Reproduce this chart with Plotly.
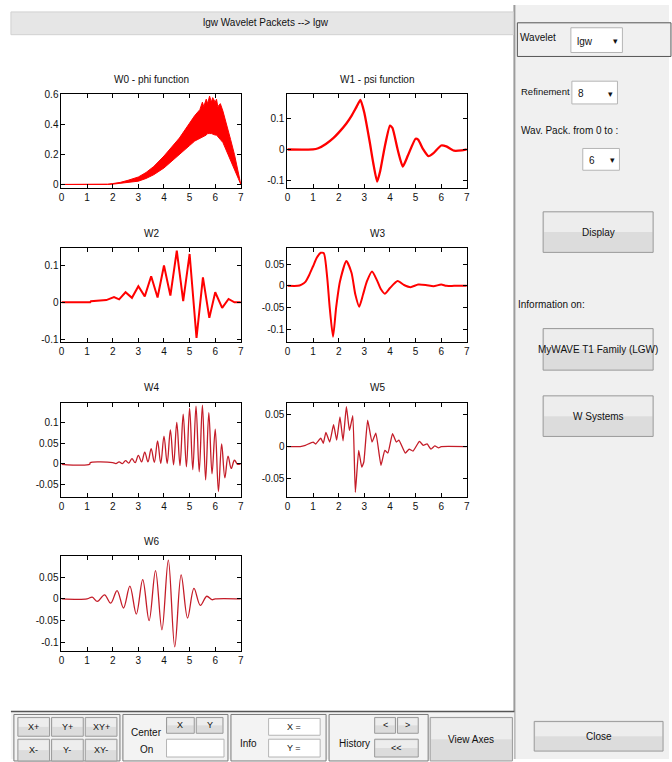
import plotly.graph_objects as go

# ---------------- data ----------------
x_ticks = [0, 1, 2, 3, 4, 5, 6, 7]

w0_x = [0, 1.0, 1.8, 2.0, 2.3, 2.6, 3.0, 3.3, 3.6, 4.0, 4.3, 4.6, 5.0, 5.2, 5.4, 5.5, 5.55, 5.65, 5.7, 5.78, 5.85, 5.9,
        6.0, 6.05, 6.1, 6.2, 6.3, 6.45, 6.6, 6.75, 6.9, 7.0]
w0_upper = [0, 0, 0.002, 0.006, 0.014, 0.028, 0.05, 0.08, 0.12, 0.19, 0.25, 0.31, 0.41, 0.46, 0.50, 0.55, 0.52, 0.57,
            0.54, 0.59, 0.55, 0.58, 0.55, 0.57, 0.52, 0.54, 0.49, 0.40, 0.30, 0.20, 0.08, 0.01]
w0_lower = [0, 0, 0, 0.002, 0.006, 0.012, 0.022, 0.04, 0.065, 0.11, 0.15, 0.20, 0.26, 0.29, 0.31, 0.32, 0.32, 0.33,
            0.34, 0.34, 0.34, 0.34, 0.33, 0.33, 0.32, 0.30, 0.28, 0.22, 0.16, 0.10, 0.04, 0.0]

w1_x = [0, 1.0, 1.2, 1.5, 1.8, 2.0, 2.3, 2.5, 2.7, 2.85, 3.0, 3.2, 3.35, 3.5, 3.62, 3.8, 4.0, 4.1, 4.3, 4.5, 4.7, 5.0, 5.1, 5.3, 5.5, 5.7, 6.0, 6.2, 6.5, 6.8, 7.0]
w1_y = [0, 0, 0.004, 0.018, 0.038, 0.055, 0.085, 0.11, 0.14, 0.162, 0.12, 0.03, -0.045, -0.105, -0.07, 0.01, 0.078, 0.07, 0.0, -0.056, -0.02, 0.035, 0.032, 0.0, -0.022, -0.012, 0.013, 0.01, -0.004, -0.003, 0.0]

w2_x = [0, 1.12, 1.15, 1.5, 1.75, 2.05, 2.25, 2.5, 2.75, 3.0, 3.25, 3.5, 3.75, 4.0, 4.25, 4.5, 4.75, 5.0, 5.27, 5.52, 5.77, 6.0, 6.27, 6.52, 6.75, 7.0]
w2_y = [0, 0, 0.003, 0.004, 0.006, 0.014, 0.008, 0.027, 0.012, 0.043, 0.016, 0.07, 0.013, 0.099, 0.018, 0.139, 0.003, 0.13, -0.096, 0.067, -0.042, 0.027, -0.015, 0.009, 0.0, 0.0]

w3_x = [0, 0.4, 0.55, 0.7, 0.85, 1.0, 1.15, 1.3, 1.42, 1.55, 1.65, 1.78, 1.9, 2.05, 2.3, 2.5, 2.65, 2.8, 2.95, 3.1, 3.3, 3.5, 3.65, 3.8, 4.0, 4.3, 4.55, 4.8, 5.1, 5.4, 5.7, 6.0, 6.2, 6.5, 7.0]
w3_y = [0, 0, 0.003, 0.009, 0.025, 0.045, 0.065, 0.076, 0.075, 0.02, -0.05, -0.117, -0.05, 0.01, 0.057, 0.03, -0.02, -0.048, -0.02, 0.01, 0.033, 0.012, -0.008, -0.018, -0.005, 0.011, 0.002, -0.003, 0.003, 0.002, -0.001, 0.003, 0.0, 0.0, 0.0]

w4_x = [0, 1.1, 1.12, 2.0, 2.125, 2.25, 2.375, 2.5, 2.625, 2.75, 2.875, 3.0, 3.125, 3.25, 3.375, 3.5, 3.625, 3.75,
        3.875, 4.0, 4.125, 4.25, 4.375, 4.5, 4.625, 4.75, 4.875, 5.0, 5.125, 5.25, 5.375, 5.5, 5.625, 5.75,
        5.875, 6.0, 6.125, 6.25, 6.375, 6.5, 6.625, 6.75, 6.875, 7.0]
w4_y = [-0.002, -0.002, 0.002, 0.002, 0.0, 0.004, 0.0, 0.007, 0.001, 0.012, 0.002, 0.02, 0.004, 0.028, 0.004, 0.036, 0.003, 0.055,
        0.0, 0.067, 0.0, 0.082, -0.003, 0.1, -0.005, 0.12, -0.008, 0.135, -0.015, 0.14, -0.02, 0.142, -0.04, 0.124,
        -0.025, 0.084, -0.068, 0.048, -0.035, 0.018, -0.012, 0.008, -0.002, 0.0]

w5_x = [0, 0.5, 0.7, 1.0, 1.1, 1.3, 1.4, 1.5, 1.65, 1.8, 1.92, 2.05, 2.17, 2.3, 2.42, 2.55, 2.65, 2.78, 2.9, 2.98, 3.13, 3.3, 3.45, 3.65, 3.8, 3.92, 4.1, 4.25, 4.35, 4.6, 4.75, 4.9, 5.15, 5.3, 5.45, 5.6, 5.75, 5.9, 6.0, 7.0]
w5_y = [0, 0, 0.002, 0.007, 0.004, 0.013, 0.005, 0.022, 0.007, 0.034, 0.01, 0.046, 0.009, 0.062, 0.025, 0.048, -0.071, -0.006, -0.032, -0.024, 0.041, 0.007, 0.021, -0.029, -0.006, -0.01, 0.02, 0.007, 0.01, -0.01, -0.004, -0.007, 0.008, 0.002, 0.004, -0.004, 0.001, -0.002, 0, 0]

w6_x = [0, 1.0, 1.2, 1.4, 1.68, 1.92, 2.17, 2.42, 2.67, 2.92, 3.17, 3.42, 3.67, 3.92, 4.17, 4.42, 4.67, 4.92, 5.17, 5.42, 5.67, 5.87, 6.0, 7.0]
w6_y = [0, 0, 0.004, -0.006, 0.009, -0.01, 0.019, -0.021, 0.029, -0.035, 0.044, -0.05, 0.065, -0.071, 0.089, -0.11, 0.055, -0.044, 0.024, -0.015, 0.006, -0.002, 0, 0]

titles = ["W0 - phi function", "W1 - psi function", "W2", "W3", "W4", "W5", "W6"]
y_tickvals = [
    [0, 0.2, 0.4, 0.6],
    [-0.1, 0, 0.1],
    [-0.1, 0, 0.1],
    [-0.1, -0.05, 0, 0.05],
    [-0.05, 0, 0.05, 0.1],
    [-0.05, 0, 0.05],
    [-0.1, -0.05, 0, 0.05],
]
y_ticktext = [
    ["0", "0.2", "0.4", "0.6"],
    ["-0.1", "0", "0.1"],
    ["-0.1", "0", "0.1"],
    ["-0.1", "-0.05", "0", "0.05"],
    ["-0.05", "0", "0.05", "0.1"],
    ["-0.05", "0", "0.05"],
    ["-0.1", "-0.05", "0", "0.05"],
]
y_ranges = [[-0.024, 0.604], [-0.126, 0.181], [-0.108, 0.145], [-0.13, 0.086],
            [-0.081, 0.148], [-0.078, 0.068], [-0.12, 0.098]]

# ---------------- layout helpers (pixel -> paper) ----------------
W, H = 672, 762
FONT = "Liberation Sans Narrow, Liberation Sans, Arial, sans-serif"


def px(x):
    return x / W


def py(y):
    return 1 - y / H


shapes = []
annotations = []


def rect(x0, y0, x1, y1, fill, line="rgba(0,0,0,0)", lw=1):
    shapes.append(dict(type="rect", xref="paper", yref="paper",
                       x0=px(x0), x1=px(x1), y0=py(y1), y1=py(y0),
                       fillcolor=fill, line=dict(color=line, width=lw), layer="below"))


def hline(x0, x1, y, color, lw=1):
    shapes.append(dict(type="line", xref="paper", yref="paper",
                       x0=px(x0), x1=px(x1), y0=py(y), y1=py(y),
                       line=dict(color=color, width=lw), layer="below"))


def vline(x, y0, y1, color, lw=1):
    shapes.append(dict(type="line", xref="paper", yref="paper",
                       x0=px(x), x1=px(x), y0=py(y0), y1=py(y1),
                       line=dict(color=color, width=lw), layer="below"))


def text(x, y, s, size=10, anchor="center", color="#111"):
    annotations.append(dict(xref="paper", yref="paper", x=px(x), y=py(y), text=s,
                            showarrow=False, xanchor=anchor, yanchor="middle",
                            font=dict(family=FONT, size=size, color=color)))


def button(x0, y0, x1, y1, label=None, size=10):
    rect(x0, y0, x1, y1, "#dcdcdc", "#9a9a9a", 1)
    rect(x0 + 1, y0 + 1, x1 - 1, (y0 + y1) / 2, "#ededed")
    if label:
        text((x0 + x1) / 2, (y0 + y1) / 2, label, size)


def dropdown(x0, y0, x1, y1, label):
    rect(x0, y0, x1, y1, "#ffffff", "#b5b5b5", 1)
    text(x0 + 4, (y0 + y1) / 2 + 1, label, 10, "left")
    text(x1 - 7, (y0 + y1) / 2 + 1, "▾", 9)


# ---------------- GUI chrome ----------------
rect(0, 0, W, H, "#ffffff")
rect(516, 0, W, H, "#f0f0f0")
vline(516, 0, H, "#9c9c9c", 2)
rect(8, 7, 515, 30, "#e6e6e6", "#d2d2d2", 1)
text(265, 18, "lgw Wavelet Packets --> lgw", 10)

# right panel
rect(519, 18, 674, 52, "#f0f0f0", "#555555", 1)
text(520, 33, "Wavelet", 10, "left")
dropdown(573, 23, 625, 48, "lgw")
text(521, 87, "Refinement", 9.5, "left")
dropdown(574, 77, 620, 100, "8")
text(521, 127, "Wav. Pack. from 0 to :", 10, "left")
dropdown(585, 145, 622, 167, "6")
button(545, 209, 656, 250, "Display")
text(518, 303, "Information on:", 10, "left")
button(545, 327, 656, 369, "MyWAVE T1 Family (LGW)")
button(545, 395, 656, 436, "W Systems")
button(536, 724, 666, 754, "Close")

# bottom toolbar
rect(8, 714, 516, H, "#f3f3f3")
hline(8, 516, 714, "#555555", 1.5)
rect(11, 717, 118, H + 2, "#f3f3f3", "#7a7a7a", 1)
for (x0, x1, a, b) in [(15, 47, "X+", "X-"), (49, 81, "Y+", "Y-"), (83, 115, "XY+", "XY-")]:
    button(x0, 720, x1, 739, a, 9)
    button(x0, 742, x1, H + 2, b, 9)
rect(121, 717, 227, H + 2, "#f3f3f3", "#7a7a7a", 1)
text(145, 735, "Center", 10)
text(145, 752, "On", 10)
button(165, 720, 193, 736, "X", 9)
button(195, 720, 222, 736, "Y", 9)
rect(165, 742, 223, 760, "#ffffff", "#b5b5b5", 1)
rect(230, 717, 326, H + 2, "#f3f3f3", "#7a7a7a", 1)
text(248, 746, "Info", 10)
rect(268, 721, 320, 738, "#ffffff", "#b5b5b5", 1)
text(294, 730, "X =", 9)
rect(268, 742, 320, 760, "#ffffff", "#b5b5b5", 1)
text(294, 751, "Y =", 9)
rect(329, 717, 429, H + 2, "#f3f3f3", "#7a7a7a", 1)
text(355, 746, "History", 10)
button(375, 720, 396, 736, "<", 9)
button(398, 720, 419, 736, ">", 9)
button(375, 742, 419, 760, "<<", 9)
button(431, 720, 514, H + 2, "View Axes", 10)

# ---------------- plots ----------------
boxes = [(59, 90, 240, 185), (287, 90, 468, 185), (59, 246, 240, 341), (287, 246, 468, 341),
         (59, 402, 240, 497), (287, 402, 468, 497), (59, 557, 240, 653)]

fig = go.Figure()

RED = "#ff0000"
DARK = "#c41c28"

# W0 filled band
fig.add_trace(go.Scatter(x=w0_x + w0_x[::-1], y=w0_upper + w0_lower[::-1], fill="toself",
                         fillcolor=RED, line=dict(color=RED, width=1), mode="lines",
                         xaxis="x", yaxis="y", hoverinfo="skip"))
fig.add_trace(go.Scatter(x=w1_x, y=w1_y, mode="lines", line=dict(color=RED, width=2.3, shape="spline", smoothing=0.5),
                         xaxis="x2", yaxis="y2"))
fig.add_trace(go.Scatter(x=w2_x, y=w2_y, mode="lines", line=dict(color=RED, width=2),
                         xaxis="x3", yaxis="y3"))
fig.add_trace(go.Scatter(x=w3_x, y=w3_y, mode="lines", line=dict(color=RED, width=2, shape="spline", smoothing=0.6),
                         xaxis="x4", yaxis="y4"))
fig.add_trace(go.Scatter(x=w4_x, y=w4_y, mode="lines", line=dict(color=DARK, width=1.3, shape="spline", smoothing=1),
                         xaxis="x5", yaxis="y5"))
fig.add_trace(go.Scatter(x=w5_x, y=w5_y, mode="lines", line=dict(color=DARK, width=1.3, shape="spline", smoothing=0.4),
                         xaxis="x6", yaxis="y6"))
fig.add_trace(go.Scatter(x=w6_x, y=w6_y, mode="lines", line=dict(color=DARK, width=1.3, shape="spline", smoothing=1),
                         xaxis="x7", yaxis="y7"))

layout = dict(width=W, height=H, autosize=False, margin=dict(l=0, r=0, t=0, b=0),
              paper_bgcolor="#ffffff", plot_bgcolor="#ffffff", showlegend=False,
              font=dict(family=FONT, size=10, color="#111"))

axis_common = dict(showline=True, linecolor="#000", linewidth=1, mirror="ticks", ticks="inside",
                   ticklen=4, tickcolor="#000", showgrid=False, zeroline=False, fixedrange=True,
                   tickfont=dict(family=FONT, size=10, color="#111"))

for i, (x0, y0, x1, y1) in enumerate(boxes):
    n = "" if i == 0 else str(i + 1)
    layout["xaxis" + n] = dict(domain=[px(x0), px(x1)], anchor="y" + n, range=[0, 7],
                               tickvals=x_ticks, ticktext=[str(v) for v in x_ticks], **axis_common)
    layout["yaxis" + n] = dict(domain=[py(y1), py(y0)], anchor="x" + n, range=y_ranges[i],
                               tickvals=y_tickvals[i], ticktext=y_ticktext[i], **axis_common)
    text((x0 + x1) / 2, y0 - 15, titles[i], 10)

layout["shapes"] = shapes
layout["annotations"] = annotations
fig.update_layout(**layout)

fig.write_html("out.html", config={"displayModeBar": False})
